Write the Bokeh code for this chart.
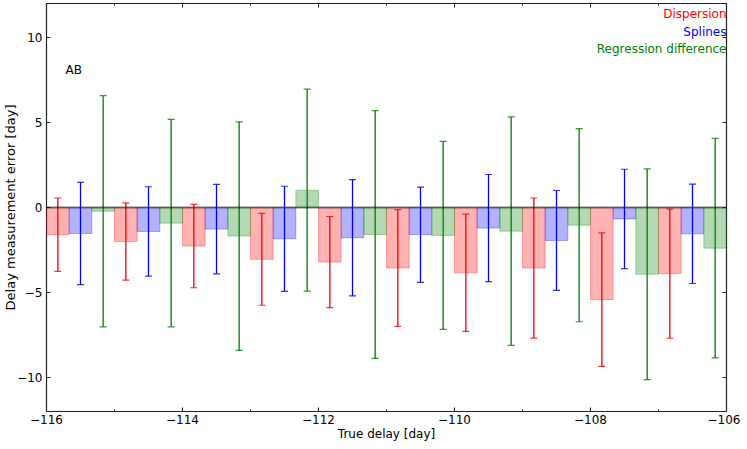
from bokeh.plotting import figure
from bokeh.models import (ColumnDataSource, Range1d, FixedTicker, LinearAxis,
                          Span, Whisker, TeeHead, Label)
from bokeh.embed import file_html
from bokeh.resources import INLINE

# ---- data ----
delays = [-116, -115, -114, -113, -112, -111, -110, -109, -108, -107]
disp = [-1.60, -2.00, -2.27, -3.05, -3.21, -3.56, -3.84, -3.56, -5.42, -3.89]
disp_err = [2.16, 2.27, 2.45, 2.70, 2.68, 3.43, 3.45, 4.12, 3.93, 3.80]
spl = [-1.53, -1.41, -1.27, -1.84, -1.78, -1.60, -1.21, -1.94, -0.67, -1.55]
spl_err = [3.01, 2.63, 2.63, 3.09, 3.42, 2.80, 3.15, 2.94, 2.92, 2.92]
reg = [-0.22, -0.92, -1.68, 1.02, -1.59, -1.64, -1.39, -1.04, -3.93, -2.39]
reg_err = [6.80, 6.10, 6.72, 5.94, 7.29, 5.53, 6.72, 5.68, 6.20, 6.46]

series_names = ["Dispersion", "Splines", "Regression difference"]
series_vals = [disp, spl, reg]
series_errs = [disp_err, spl_err, reg_err]
series_colors = ["#ff0000", "#0000ff", "#008000"]

xticks = [-116, -114, -112, -110, -108, -106]
xtick_labels = ["\u2212116", "\u2212114", "\u2212112", "\u2212110", "\u2212108", "\u2212106"]
xminor = [-115, -113, -111, -109, -107]
yticks = [-10, -5, 0, 5, 10]
ytick_labels = ["\u221210", "\u22125", "0", "5", "10"]

FONT = "DejaVu Sans"

p = figure(frame_width=680, frame_height=408,
           x_range=Range1d(-116, -106), y_range=Range1d(-12, 12),
           output_backend="svg", toolbar_location=None,
           min_border_left=41, min_border_right=14,
           min_border_top=3, min_border_bottom=34)
p.xgrid.visible = False
p.ygrid.visible = False
p.background_fill_color = "white"
p.border_fill_color = "white"
p.outline_line_color = "#222222"
p.outline_line_width = 1.2


def style_axis(ax, ticks, minor, labels, show_labels=True):
    ax.ticker = FixedTicker(ticks=ticks, minor_ticks=minor)
    ax.axis_line_color = None
    ax.major_tick_in = 4
    ax.major_tick_out = 0
    ax.minor_tick_in = 2
    ax.minor_tick_out = 0
    ax.major_tick_line_color = "#222222"
    ax.minor_tick_line_color = "#222222"
    if show_labels:
        ax.major_label_overrides = {t: l for t, l in zip(ticks, labels)}
        ax.major_label_text_font = FONT
        ax.major_label_text_font_size = "12px"
        ax.major_label_text_color = "black"
        ax.major_label_standoff = 4
    else:
        ax.major_label_overrides = {t: "" for t in ticks}
        ax.major_label_text_font_size = "0px"
        ax.major_label_standoff = 0


xax = p.xaxis[0]
yax = p.yaxis[0]
style_axis(xax, xticks, xminor, xtick_labels)
style_axis(yax, yticks, [], ytick_labels)
xax.axis_label = "True delay [day]"
yax.axis_label = "Delay measurement error [day]"
for ax, sz, so in ((xax, "12px", 0), (yax, "13px", -4)):
    ax.axis_label_text_font = FONT
    ax.axis_label_text_font_size = sz
    ax.axis_label_text_font_style = "normal"
    ax.axis_label_text_color = "black"
    ax.axis_label_standoff = so
xax.major_label_standoff = 3

top_ax = LinearAxis()
style_axis(top_ax, xticks, xminor, xtick_labels, show_labels=False)
right_ax = LinearAxis()
style_axis(right_ax, yticks, [], ytick_labels, show_labels=False)
p.add_layout(top_ax, "above")
p.add_layout(right_ax, "right")

bw = 1.0 / 3.0
for k, (vals, errs, col) in enumerate(zip(series_vals, series_errs, series_colors)):
    xs = [d + (k + 0.5) * bw for d in delays]
    src = ColumnDataSource(dict(x=xs, top=vals,
                                lower=[v - e for v, e in zip(vals, errs)],
                                upper=[v + e for v, e in zip(vals, errs)]))
    p.vbar(x="x", top="top", bottom=0, width=bw, source=src,
           fill_color=col, fill_alpha=0.3, line_color=col, line_alpha=0.3,
           line_width=1)
    w = Whisker(source=src, base="x", lower="lower", upper="upper",
                dimension="height", line_color=col, line_width=1.3,
                upper_head=TeeHead(size=7, line_color=col, line_width=1.2, line_alpha=0.8),
                lower_head=TeeHead(size=7, line_color=col, line_width=1.2, line_alpha=0.8))
    p.add_layout(w)

p.add_layout(Span(location=0, dimension="width", line_color="black",
                  line_alpha=0.5, line_width=2))

p.add_layout(Label(x=-115.72, y=8.1, text="AB", text_font=FONT,
                   text_font_size="12px", text_color="black",
                   text_baseline="alphabetic", text_align="left"))
for name, col, yv in zip(series_names, series_colors, [11.4, 10.35, 9.3]):
    p.add_layout(Label(x=-106, y=yv, text=name, text_font=FONT,
                       text_font_size="12px", text_color=col,
                       text_baseline="alphabetic", text_align="right"))

open("out.html", "w").write(file_html(p, INLINE))
